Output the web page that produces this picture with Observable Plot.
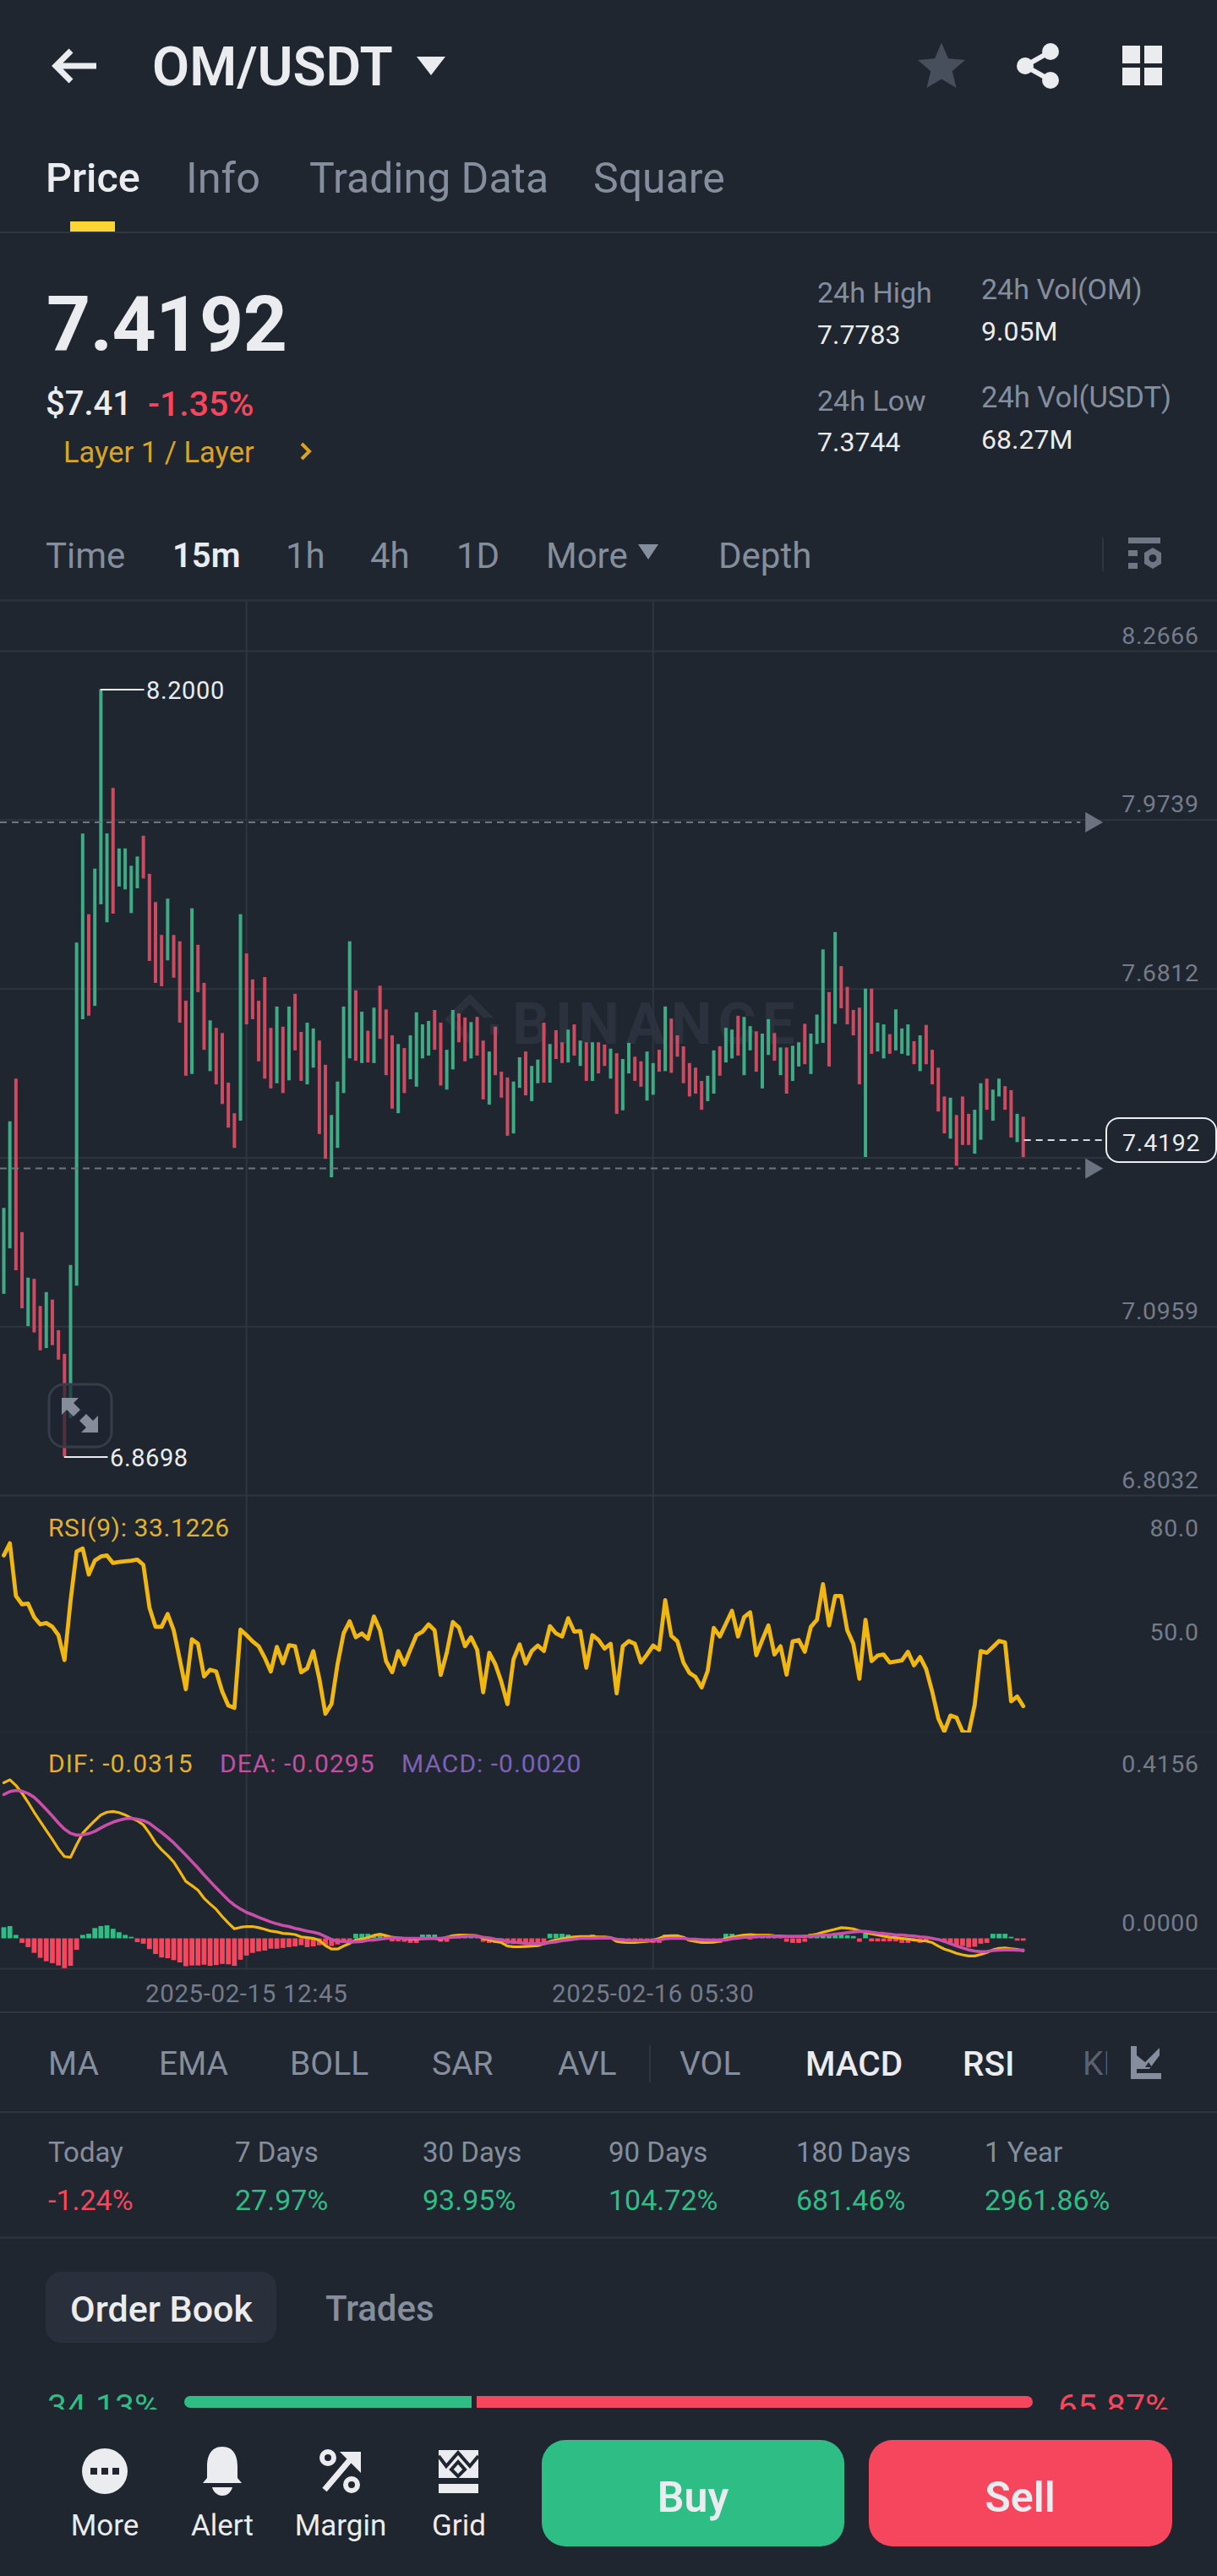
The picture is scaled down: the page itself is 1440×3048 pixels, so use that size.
<!DOCTYPE html>
<html><head><meta charset="utf-8">
<script src="https://cdn.jsdelivr.net/npm/d3@7"></script>
<script src="https://cdn.jsdelivr.net/npm/@observablehq/plot@0.6"></script>
<style>
html,body{margin:0;padding:0;background:#1F2630}
#page{position:relative;width:1440px;height:3048px;background:#1F2630;overflow:hidden;font-family:Roboto,sans-serif}
.t{position:absolute;white-space:nowrap;line-height:1;transform:translateY(-50%)}
.c{position:absolute}
.b{position:absolute}
</style></head><body><div id="page"></div>
<script>
const candleHigh=[7.301,7.451,7.525,7.259,7.180,7.178,7.131,7.155,7.142,7.089,
7.048,7.202,7.761,7.950,7.810,7.889,8.200,7.950,8.029,7.924,
7.924,7.894,7.910,7.946,7.880,7.831,7.774,7.837,7.774,7.763,
7.660,7.820,7.757,7.691,7.626,7.613,7.604,7.518,7.465,7.810,
7.742,7.697,7.660,7.701,7.613,7.650,7.615,7.650,7.672,7.606,
7.622,7.612,7.591,7.549,7.462,7.520,7.650,7.763,7.678,7.641,
7.608,7.648,7.686,7.645,7.600,7.585,7.578,7.600,7.640,7.619,
7.625,7.644,7.622,7.575,7.644,7.638,7.631,7.623,7.632,7.591,
7.572,7.615,7.537,7.527,7.520,7.562,7.572,7.547,7.558,7.622,
7.585,7.609,7.588,7.610,7.619,7.591,7.588,7.588,7.588,7.584,
7.577,7.569,7.559,7.587,7.563,7.555,7.572,7.552,7.575,7.650,
7.629,7.600,7.581,7.552,7.544,7.521,7.530,7.574,7.581,7.613,
7.610,7.634,7.632,7.616,7.607,7.603,7.628,7.604,7.579,7.579,
7.582,7.588,7.620,7.603,7.636,7.749,7.675,7.779,7.720,7.684,
7.644,7.648,7.681,7.681,7.622,7.619,7.602,7.645,7.612,7.619,
7.590,7.600,7.618,7.575,7.544,7.494,7.492,7.462,7.494,7.464,
7.471,7.517,7.525,7.506,7.525,7.512,7.505,7.464,7.459];
const candleLow=[7.152,7.231,7.193,7.127,7.096,7.085,7.054,7.058,7.063,7.038,
6.870,6.937,7.166,7.628,7.634,7.651,7.827,7.796,7.811,7.858,
7.853,7.812,7.855,7.872,7.729,7.691,7.685,7.730,7.700,7.622,
7.530,7.533,7.675,7.575,7.538,7.515,7.481,7.440,7.405,7.452,
7.619,7.628,7.555,7.525,7.508,7.517,7.500,7.522,7.574,7.521,
7.515,7.544,7.429,7.386,7.354,7.405,7.500,7.560,7.556,7.552,
7.553,7.552,7.594,7.531,7.473,7.465,7.500,7.524,7.511,7.560,
7.565,7.575,7.513,7.506,7.541,7.588,7.555,7.560,7.565,7.489,
7.480,7.531,7.492,7.426,7.430,7.509,7.496,7.486,7.517,7.518,
7.518,7.559,7.552,7.553,7.565,7.547,7.521,7.521,7.534,7.547,
7.525,7.464,7.470,7.534,7.521,7.511,7.487,7.497,7.537,7.538,
7.535,7.563,7.517,7.494,7.499,7.471,7.486,7.499,7.530,7.553,
7.560,7.565,7.531,7.574,7.537,7.508,7.566,7.556,7.531,7.499,
7.521,7.546,7.550,7.533,7.585,7.587,7.546,7.620,7.647,7.619,
7.600,7.515,7.389,7.568,7.572,7.560,7.568,7.574,7.568,7.565,
7.550,7.538,7.550,7.515,7.468,7.430,7.421,7.374,7.410,7.410,
7.395,7.419,7.471,7.452,7.494,7.471,7.423,7.415,7.389];
const candleDir=("ggrrgrrgrr"+"rgggrgggrg"+"gggrrrrgrr"+"rgrrgrrrrg"+"rrrrrgrgrr"+"ggrrggggrg"+"rgrrrgrggg"+"grrggrrgrr"+"grrrggrggr"+"grrgrgrgrr"+"grggrrggrg"+"rrrrrrggrg"+"grggrggrgr"+"ggrgggrgrr"+"rrgrggrggg"+"rgrrrrgrrr"+"ggrggrrgr").split("");
const rsi=[76.6,80.1,64.9,62.5,62.7,58.8,56.7,57.1,56.0,53.6,
46.4,63.5,77.7,78.6,71.1,75.1,76.3,76.6,74.4,74.7,
74.9,75.1,75.4,73.9,61.6,56.0,56.0,59.7,55.0,46.6,
38.0,52.4,51.1,41.7,43.6,43.1,37.3,33.3,32.6,55.2,
53.6,51.8,50.4,47.1,43.1,50.2,45.5,50.7,50.4,42.9,
44.0,49.0,41.0,30.9,33.7,45.2,54.1,57.6,53.0,54.1,
52.5,59.0,55.0,46.1,42.9,49.0,45.1,49.4,53.6,54.6,
56.7,55.0,42.1,48.5,57.4,55.8,50.4,53.0,49.4,37.1,
48.5,45.2,40.1,33.7,46.6,50.9,45.4,49.0,50.6,49.0,
56.2,54.1,53.2,58.5,54.6,54.8,44.2,53.6,52.2,49.7,
51.1,36.8,50.4,51.9,51.1,45.7,48.0,50.6,49.4,63.7,
53.4,51.8,45.7,42.7,41.5,38.5,43.3,55.7,53.2,56.9,
60.6,53.2,58.8,60.2,47.8,52.2,56.4,48.0,50.4,42.2,
51.8,52.2,48.8,56.0,58.0,68.3,56.4,64.9,64.9,55.0,
51.1,41.0,58.0,46.1,47.7,48.0,45.7,46.0,46.3,48.8,
44.9,47.3,43.8,37.3,29.6,25.8,30.4,29.8,25.8,25.3,
33.5,49.0,48.5,50.2,51.9,51.5,34.5,35.9,33.12];
const dif=[.408,.416,.401,.381,.357,.331,.307,.283,.260,.235,
.215,.213,.246,.276,.293,.309,.324,.331,.333,.330,
.324,.316,.309,.298,.276,.251,.233,.218,.201,.176,
.150,.139,.127,.106,.091,.077,.058,.041,.026,.030,
.032,.032,.029,.025,.020,.018,.014,.013,.011,.005,
.003,.001,-.004,-.018,-.027,-.027,-.019,-.012,-.003,-.001,
.003,.009,.012,.008,.004,.002,.001,-.001,-.001,0,
.001,.001,-.001,.004,.008,.010,.010,.009,.008,.001,
-.003,-.007,-.010,-.019,-.021,-.021,-.020,-.019,-.018,-.013,
-.007,-.003,0,.003,.005,.006,.006,.006,.005,.005,
.003,-.007,-.009,-.010,-.010,-.008,-.007,-.004,.001,.007,
.008,.008,.004,-.004,-.007,-.010,-.010,-.009,-.006,.001,
.004,.007,.010,.011,.010,.010,.010,.008,.007,.006,
.006,.006,.006,.009,.012,.017,.021,.025,.029,.028,
.026,.021,.016,.013,.010,.007,.004,.003,.001,-.001,
-.003,-.005,-.006,-.010,-.019,-.027,-.032,-.038,-.042,-.045,
-.045,-.041,-.036,-.029,-.025,-.024,-.026,-.028,-.0315];
const dea=[.377,.385,.388,.386,.380,.370,.355,.338,.321,.303,
.287,.276,.271,.272,.275,.281,.290,.298,.305,.310,
.314,.315,.313,.309,.302,.290,.278,.265,.251,.235,
.219,.202,.185,.167,.150,.133,.117,.101,.088,.078,
.069,.063,.056,.050,.044,.039,.035,.032,.027,.024,
.020,.017,.013,.006,-.002,-.006,-.007,-.008,-.008,-.007,
-.004,-.003,-.001,.001,.002,.002,.001,.001,.001,.001,
.001,.001,.001,.003,.004,.005,.007,.008,.007,.004,
.002,-.001,-.003,-.007,-.009,-.010,-.012,-.013,-.013,-.013,
-.010,-.008,-.005,-.003,-.001,.001,.001,.001,.002,.002,
.002,-.001,-.003,-.005,-.005,-.005,-.005,-.004,-.003,0,
.001,.001,.001,-.001,-.001,-.003,-.004,-.004,-.004,-.003,
0,.002,.004,.004,.006,.007,.007,.007,.006,.006,
.006,.006,.007,.007,.008,.010,.010,.012,.014,.016,
.018,.019,.019,.017,.015,.014,.012,.010,.010,.008,
.007,.005,.004,.001,-.002,-.007,-.013,-.019,-.024,-.029,
-.032,-.034,-.033,-.031,-.030,-.029,-.029,-.030,-.0295];
const macd=[.029,.032,.009,-.012,-.023,-.038,-.051,-.060,-.065,-.071,
-.078,-.072,-.030,.009,.012,.027,.032,.034,.025,.016,
.009,.004,-.010,-.014,-.028,-.041,-.050,-.052,-.057,-.063,
-.073,-.071,-.071,-.069,-.072,-.070,-.067,-.068,-.072,-.056,
-.045,-.038,-.034,-.032,-.027,-.027,-.025,-.023,-.021,-.018,
-.023,-.021,-.018,-.018,-.020,-.016,-.012,-.008,.012,.012,
.012,.010,.010,.008,-.008,-.008,-.009,-.012,-.012,.010,
.010,.010,-.009,-.009,.010,.010,.010,.010,.004,-.009,
-.012,-.012,-.012,-.014,-.015,-.015,-.015,-.014,-.013,-.010,
.012,.012,.012,.010,.004,.004,.006,.010,.006,.004,
.004,-.009,-.012,-.012,-.012,-.009,-.009,-.012,-.012,.010,
.007,.006,.004,-.008,-.010,-.012,-.012,-.012,-.012,.012,
.012,.006,.004,-.003,.004,.006,.004,.003,.003,-.009,
-.012,-.012,-.009,.012,.012,.012,.008,.012,.012,.008,
.006,-.009,.012,-.008,-.008,-.008,-.008,-.008,-.012,-.012,
-.007,-.012,-.010,-.003,-.003,-.010,-.014,-.020,-.020,-.024,
-.022,-.014,-.012,.012,.012,.012,.004,-.006,-.006];

const priceTicks=[8.2666,7.9739,7.6812,7.3885,7.0959,6.8032];
const rsiTicks=[80,50];
const macdTicks=[0.4156,0];
const crosshairDates=[new Date(Date.UTC(2025,1,15,12,45)),new Date(Date.UTC(2025,1,16,5,30))];
const referenceLevels=[7.97,7.37];
const lastPrice=7.4192;

const STEP=15*60*1000, START=Date.UTC(2025,1,15,2,45);
const tAt=i=>new Date(START+i*STEP);
const candles=candleHigh.map((h,i)=>({t:tAt(i),high:h,low:candleLow[i],dir:candleDir[i],rsi:rsi[i],dif:dif[i],dea:dea[i],macd:macd[i]}));
const xDomain=[tAt(-0.557),tAt(200)];
const xScale={type:"utc",domain:xDomain,range:[0,1440]};
const xHidden={...xScale,axis:null};

const GRID="#2E353F",AXIS="#747C89",CG="#3FAB84",CR="#CC4B60",UP="#2EBD85",DN="#F6465D",DIFC="#EFB70F",DEAC="#C94FA8";
const font="Roboto,sans-serif";
const base={width:1440,marginTop:0,marginLeft:0,marginRight:0,style:{background:"transparent",fontFamily:font,color:AXIS,position:"absolute",left:"0",maxWidth:"none",letterSpacing:"0.6px"}};
const axisOpts={anchor:"right",tickSize:0,tickPadding:0,dx:-22,dy:-18,textAnchor:"end",fill:AXIS,fontSize:28.5,label:null};

const highLabel=[{x1:tAt(16),x2:tAt(23.2),y:8.2,text:"8.2000"}];
const lowLabel=[{x1:tAt(10),x2:tAt(17.2),y:6.8698,text:"6.8698"}];

const pricePlot=Plot.plot({...base,height:1060,marginBottom:0,x:xHidden,
  y:{domain:[6.8032,8.2666],range:[1057,58]},
  marks:[
    Plot.ruleY(priceTicks,{stroke:GRID,strokeWidth:2}),
    Plot.ruleX(crosshairDates,{stroke:GRID,strokeWidth:2}),
    Plot.axisY(priceTicks,{...axisOpts,tickFormat:d=>d.toFixed(4)}),
    Plot.ruleX(candles,{x:"t",y1:"low",y2:"high",stroke:d=>d.dir==="g"?CG:CR,strokeWidth:4}),
    Plot.ruleY(referenceLevels,{x1:xDomain[0],x2:tAt(177.5),stroke:"#6F7682",strokeWidth:2,strokeDasharray:"8,6"}),
    Plot.dot(referenceLevels,{x:()=>tAt(179.2),y:d=>d,symbol:"triangle",rotate:90,r:9,fill:"#6B7280",stroke:"none"}),
    Plot.ruleY([lastPrice],{x1:tAt(168.2),x2:tAt(181.5),stroke:"#D8DADF",strokeWidth:2,strokeDasharray:"8,6"}),
    Plot.ruleY(highLabel,{x1:"x1",x2:"x2",y:"y",stroke:"#EAECEF",strokeWidth:2}),
    Plot.text(highLabel,{x:"x2",y:"y",text:"text",textAnchor:"start",dx:2,dy:2,fill:"#EAECEF",fontSize:29}),
    Plot.ruleY(lowLabel,{x1:"x1",x2:"x2",y:"y",stroke:"#EAECEF",strokeWidth:2}),
    Plot.text(lowLabel,{x:"x2",y:"y",text:"text",textAnchor:"start",dx:2,dy:2,fill:"#EAECEF",fontSize:29})
  ]});
pricePlot.style.top="712px";

const rsiPlot=Plot.plot({...base,height:280,marginBottom:0,x:xHidden,
  y:{domain:[50,80],range:[179,56]},
  marks:[
    Plot.frame({anchor:"bottom",stroke:GRID,strokeWidth:2}),
    Plot.ruleX(crosshairDates,{stroke:GRID,strokeWidth:2}),
    Plot.axisY(rsiTicks,{...axisOpts,tickFormat:d=>d.toFixed(1)}),
    Plot.line(candles,{x:"t",y:"rsi",stroke:DIFC,strokeWidth:4.8,curve:"linear"})
  ]});
rsiPlot.style.top="1770px";

const macdPlot=Plot.plot({...base,height:330,marginBottom:51,x:xScale,
  y:{domain:[0,0.4156],range:[243.5,55.5]},
  marks:[
    Plot.frame({anchor:"bottom",stroke:GRID,strokeWidth:2}),
    Plot.ruleX(crosshairDates,{stroke:GRID,strokeWidth:2}),
    Plot.axisY(macdTicks,{...axisOpts,tickFormat:d=>d.toFixed(4)}),
    Plot.axisX(crosshairDates,{anchor:"bottom",tickSize:0,tickPadding:19,fill:AXIS,fontSize:29.5,label:null,tickFormat:d3.utcFormat("%Y-%m-%d %H:%M")}),
    Plot.ruleX(candles,{x:"t",y1:()=>0,y2:"macd",stroke:d=>d.macd>=0?UP:DN,strokeWidth:5.8}),
    Plot.line(candles,{x:"t",y:"dif",stroke:DIFC,strokeWidth:3.2,curve:"linear"}),
    Plot.line(candles,{x:"t",y:"dea",stroke:DEAC,strokeWidth:3.6,curve:"linear"})
  ]});
macdPlot.style.top="2050px";

const page=document.getElementById("page");
const add=(html)=>page.insertAdjacentHTML("beforeend",html);
const WHITE="#EAECEF",GRAY="#848E9C";
function T(s,x,y,size,color,weight,extra){add(`<div class="t" style="left:${x}px;top:${y}px;font-size:${size}px;color:${color};font-weight:${weight||400};${extra||""}">${s}</div>`)}
function B(x,y,w,h,bg,extra){add(`<div class="b" style="left:${x}px;top:${y}px;width:${w}px;height:${h}px;background:${bg};${extra||""}">`+`</div>`)}

/* watermark behind the chart */
T("BINANCE",606,1211,69,"#2B323D",700,"letter-spacing:7px");
add(`<svg class="c" style="left:518px;top:1168px" width="90" height="75" viewBox="0 0 90 75"><path d="M8 38 L38 8 L66 36 L54 36 L38 20 L20 38 L38 56 L38 68Z M62 44 L72 44 L72 56 L62 56Z" fill="#2B323D"/></svg>`);

page.appendChild(pricePlot);page.appendChild(rsiPlot);page.appendChild(macdPlot);

/* header */
add(`<svg class="c" style="left:58px;top:54px" width="60" height="48" viewBox="0 0 60 48"><path d="M26 6 L8 24 L26 42 M8 24 H56" fill="none" stroke="${WHITE}" stroke-width="7"/></svg>`);
T("OM/USDT",180,80,64,WHITE,600);
add(`<svg class="c" style="left:492px;top:66px" width="36" height="24"><path d="M1 1H35L18 23Z" fill="${WHITE}"/></svg>`);
add(`<svg class="c" style="left:1084px;top:48px" width="60" height="60" viewBox="0 0 24 24"><path d="M12 1l3.2 7.5 8 .7-6.1 5.3 1.9 7.9-7-4.2-7 4.2 1.9-7.9L.8 9.200l8-.7z" fill="#474F5C"/></svg>`);
add(`<svg class="c" style="left:1200px;top:50px" width="56" height="56" viewBox="0 0 56 56"><circle cx="43" cy="11" r="10" fill="${WHITE}"/><circle cx="43" cy="45" r="10" fill="${WHITE}"/><circle cx="13" cy="28" r="10" fill="${WHITE}"/><path d="M43 11L13 28L43 45" stroke="${WHITE}" stroke-width="6" fill="none"/></svg>`);
add(`<svg class="c" style="left:1328px;top:54px" width="48" height="48"><rect width="21" height="21" fill="${WHITE}"/><rect x="26" width="21" height="21" fill="${WHITE}"/><rect y="26" width="21" height="21" fill="${WHITE}"/><rect x="26" y="26" width="21" height="21" fill="${WHITE}"/></svg>`);

const tabLabels=["Price","Info","Trading Data","Square"],tabX=[54,220,366,702],tabSize=[48.5,50.5,50,50];
tabLabels.forEach((s,i)=>T(s,tabX[i],211,tabSize[i],i?GRAY:WHITE,i?400:500));
B(83,262,53,13,"#FCD535");
B(0,274,1440,2,"#2E353F");

T("7.4192",55,384,91,WHITE,700,"letter-spacing:-.5px");
T("$7.41",54,478,40,WHITE,500);
T("-1.35%",175,478,41,DN,500);
T("Layer 1 / Layer",75,535,34.5,"#D9A520",400);
add(`<svg class="c" style="left:354px;top:522px" width="16" height="24"><path d="M3 3L12 12L3 21" stroke="#D9A520" stroke-width="4" fill="none"/></svg>`);
T("24h High",967,346,34,GRAY);T("7.7783",967,396,32,WHITE);
T("24h Low",967,474,34,GRAY);T("7.3744",967,523,32,WHITE);
T("24h Vol(OM)",1161,342,34,GRAY);T("9.05M",1161,392,32,WHITE);
T("24h Vol(USDT)",1161,470,34.5,GRAY);T("68.27M",1161,520,32,WHITE);

const frameLabels=["Time","15m","1h","4h","1D","More","Depth"],frameX=[54,204,338,438,540,646,850];
frameLabels.forEach((s,i)=>T(s,frameX[i],658,i===1?40:42,i===1?WHITE:GRAY,i===1?600:400));
add(`<svg class="c" style="left:754px;top:643px" width="26" height="20"><path d="M1 1H25L13 19Z" fill="${GRAY}"/></svg>`);
B(1304,636,2,40,"#2E353F");
add(`<svg class="c" style="left:1334px;top:634px" width="44" height="44" viewBox="0 0 44 44"><rect x="1" y="2" width="38" height="7" fill="#6F7785"/><rect x="1" y="17" width="11" height="7" fill="#6F7785"/><rect x="1" y="32" width="11" height="7" fill="#6F7785"/><path d="M30 14 L40 20 V33 L30 39 L20 33 V20Z" fill="#6F7785"/><circle cx="30" cy="26.500" r="4.500" fill="#1F2630"/></svg>`);
B(0,709,1440,3,"#2A313B");

/* last price box */
add(`<div class="b" style="left:1308px;top:1322px;width:128px;height:50px;border:2px solid ${WHITE};border-radius:16px;background:#1F2630"></div>`);
T("7.4192",1328,1353,28.5,WHITE,400,"letter-spacing:.8px");

/* expand button */
add(`<svg class="c" style="left:56px;top:1636px" width="78" height="78" viewBox="0 0 78 78"><rect x="2" y="2" width="74" height="74" rx="18" fill="#1F2630" fill-opacity=".72" stroke="#363D48" stroke-width="3"/><path d="M17 18H37L31 24L39 32L31 40L23 32L17 38Z" fill="#858D9B"/><path d="M60 59H40L46 53L38 45L46 37L54 45L60 39Z" fill="#858D9B"/></svg>`);

/* legends */
T("RSI(9): 33.1226",57,1808,30,"#E2B22C",400,"letter-spacing:.6px");
T("DIF: -0.0315",57,2087,30,"#E2B22C",400,"letter-spacing:1px");
T("DEA: -0.0295",260,2087,30,"#C24FA0",400,"letter-spacing:1px");
T("MACD: -0.0020",475,2087,30,"#7D62B4",400,"letter-spacing:1px");

/* indicators */
B(0,2380,1440,2,"#2E353F");
const indLabels=["MA","EMA","BOLL","SAR","AVL","VOL","MACD","RSI","KD"],indX=[57,188,343,511,660,804,953,1139,1281];
indLabels.forEach((s,i)=>T(s,indX[i],2442,(i===6||i===7)?40.5:39,(i===6||i===7)?WHITE:(i===8?"#5a6270":GRAY),(i===6||i===7)?500:400));
B(768,2420,2,44,"#2E353F");
add(`<div class="b" style="left:1310px;top:2410px;width:130px;height:70px;background:#1F2630"></div>`);
add(`<svg class="c" style="left:1336px;top:2420px" width="40" height="42" viewBox="0 0 40 42"><path d="M2 1V40H38V33H9V1Z" fill="#848E9C"/><path d="M9 28L9 12L19 20L36 3V12L24 28Z" fill="#848E9C"/><path d="M19 26h8l-4-6Z" fill="#1F2630"/></svg>`);
B(0,2498,1440,2,"#2E353F");
const perfLabels=["Today","7 Days","30 Days","90 Days","180 Days","1 Year"],perfVals=["-1.24%","27.97%","93.95%","104.72%","681.46%","2961.86%"],perfX=[57,278,500,720,942,1165];
perfLabels.forEach((s,i)=>{T(s,perfX[i],2546,33,GRAY);T(perfVals[i],perfX[i],2603,34,i?"#2EBD85":DN)});
B(0,2646,1440,3,"#2A313B");
B(54,2688,273,84,"#2A303B","border-radius:18px");
T("Order Book",83,2732,43,WHITE,500);
T("Trades",385,2732,42,GRAY,500);
T("34.13%",56,2848,41,"#2EBD85");
T("65.87%",1252,2848,41,DN);
B(218,2835,340,14,UP,"border-radius:7px 0 0 7px");
B(564,2835,658,14,DN,"border-radius:0 7px 7px 0");
/* footer */
B(0,2851,1440,197,"#1F2630");
add(`<svg class="c" style="left:96px;top:2896px" width="56" height="56"><circle cx="28" cy="28" r="27" fill="${WHITE}"/><rect x="11" y="24" width="8" height="8" fill="#1F2630"/><rect x="24" y="24" width="8" height="8" fill="#1F2630"/><rect x="37" y="24" width="8" height="8" fill="#1F2630"/></svg>`);
add(`<svg class="c" style="left:238px;top:2894px" width="50" height="60" viewBox="0 0 50 60"><path d="M25 1C11 1 7 13 7 24V38L2 44H48L43 38V24C43 13 39 1 25 1Z" fill="${WHITE}"/><path d="M13 49H37C35 56 30 59 25 59C20 59 15 56 13 49Z" fill="${WHITE}"/></svg>`);
add(`<svg class="c" style="left:378px;top:2898px" width="50" height="52" viewBox="0 0 50 52"><circle cx="10" cy="10" r="7" fill="none" stroke="${WHITE}" stroke-width="6"/><circle cx="38" cy="42" r="7" fill="none" stroke="${WHITE}" stroke-width="6"/><path d="M6 48L40 8" stroke="${WHITE}" stroke-width="7"/><path d="M24 3H49V28Z" fill="${WHITE}"/></svg>`);
add(`<svg class="c" style="left:518px;top:2898px" width="50" height="52" viewBox="0 0 50 52"><path d="M1 1H48V34H1Z" fill="${WHITE}"/><path d="M1 8L10 20L24 4L38 20L48 8M16 24L24 15L32 24L24 32Z" stroke="#1F2630" stroke-width="4" fill="none"/><rect x="1" y="41" width="47" height="11" fill="${WHITE}"/></svg>`);
const footLabels=["More","Alert","Margin","Grid"],footX=[124,263,403,543];
footLabels.forEach((s,i)=>T(s,footX[i],2988,35,WHITE,400,"transform:translate(-50%,-50%)"));
B(641,2887,358,126,UP,"border-radius:28px");
B(1028,2887,359,126,DN,"border-radius:28px");
T("Buy",820,2955,50,WHITE,600,"transform:translate(-50%,-50%)");
T("Sell",1207,2955,50,WHITE,600,"transform:translate(-50%,-50%)");
</script></body></html>
